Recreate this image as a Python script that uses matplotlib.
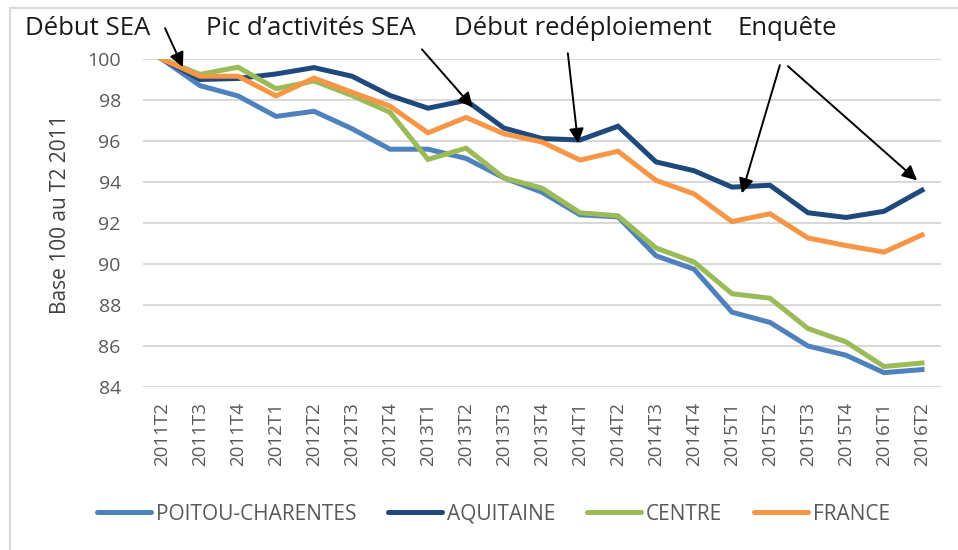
import numpy as np
import matplotlib
matplotlib.use("Agg")
import matplotlib.pyplot as plt
from matplotlib.lines import Line2D

quarters = ["2011T2", "2011T3", "2011T4", "2012T1", "2012T2", "2012T3", "2012T4",
            "2013T1", "2013T2", "2013T3", "2013T4", "2014T1", "2014T2", "2014T3",
            "2014T4", "2015T1", "2015T2", "2015T3", "2015T4", "2016T1", "2016T2"]

poitou = [100, 98.7, 98.2, 97.2, 97.45, 96.6, 95.6, 95.6, 95.15, 94.2, 93.5,
          92.4, 92.3, 90.4, 89.75, 87.65, 87.15, 86.0, 85.55, 84.7, 84.85]
aquitaine = [100, 99.0, 99.05, 99.27, 99.58, 99.16, 98.22, 97.6, 97.98, 96.63, 96.12,
             96.05, 96.72, 94.98, 94.55, 93.75, 93.84, 92.5, 92.27, 92.57, 93.6]
centre = [100, 99.25, 99.6, 98.55, 98.93, 98.22, 97.4, 95.1, 95.65, 94.2, 93.7,
          92.5, 92.35, 90.78, 90.1, 88.55, 88.33, 86.85, 86.2, 85.0, 85.17]
france = [100, 99.16, 99.16, 98.2, 99.07, 98.38, 97.7, 96.4, 97.15, 96.35, 95.95,
          95.07, 95.5, 94.08, 93.42, 92.07, 92.45, 91.27, 90.9, 90.58, 91.42]

series = [("POITOU-CHARENTES", poitou, "#4F81BD"),
          ("AQUITAINE", aquitaine, "#1F497D"),
          ("CENTRE", centre, "#9BBB59"),
          ("FRANCE", france, "#F79646")]

# (label, text x, arrow tails, arrow heads) in data coords
notes = [("Début SEA", -1.95, [(0.08, 101.5)], [(0.55, 99.6)]),
         ("Pic d\u2019activités SEA", 3.92, [(6.84, 100.47)], [(8.18, 97.64)]),
         ("Début redéploiement", 11.07, [(10.68, 100.28)], [(10.95, 95.89)]),
         ("Enquête", 16.46, [(16.26, 99.7), (16.47, 99.65)], [(15.26, 93.45), (19.87, 94.08)])]

plt.rcParams['font.family'] = ['Open Sans', 'DejaVu Sans']

fig = plt.figure(figsize=(9.58, 5.5), dpi=100)
ax = fig.add_axes([143 / 958, 1 - 387 / 550, (941 - 143) / 958, (387 - 59) / 550])

x = np.arange(len(quarters))
for name, vals, col in series:
    ax.plot(x, vals, color=col, lw=3.6, solid_joinstyle="miter", label=name, zorder=3)

ax.set_ylim(84, 100)
ax.set_xlim(-0.5, len(quarters) - 0.5)
ax.set_yticks(np.arange(84, 101, 2))
ax.grid(axis="y", color="#D9D9D9", lw=1.5)
ax.set_axisbelow(True)
for s in ax.spines.values():
    s.set_visible(False)
ax.tick_params(length=0, colors="#595959")
ax.tick_params(axis="y", pad=16, labelsize=14)
ax.set_xticks(x)
ax.set_xticklabels(quarters, rotation=90, fontsize=13.5)
ax.tick_params(axis="x", pad=11)
ax.set_ylabel("Base 100 au T2 2011", fontsize=15, color="#404040")
ax.yaxis.set_label_coords(-0.09, 0.527)

for label, tx, tails, heads in notes:
    ax.text(tx, 101.17, label, ha="center", va="baseline", fontsize=18.5, color="#1a1a1a",
            clip_on=False)
    for t, h in zip(tails, heads):
        ax.annotate("", xy=h, xytext=t, annotation_clip=False,
                    arrowprops=dict(arrowstyle="-|>", color="black", lw=1.4,
                                    mutation_scale=22, shrinkA=0, shrinkB=0))

handles = [Line2D([], [], color=c, lw=3.6, solid_capstyle="round") for _, _, c in series]
fig.legend(handles, [n for n, _, _ in series], loc="center", ncol=4,
           bbox_to_anchor=(0.515, 1 - 514 / 550), frameon=False, fontsize=15,
           handlelength=2.6, handletextpad=0.25, columnspacing=1.5,
           labelcolor="#595959")

# chart area border (top and left edges visible)
fig.add_artist(Line2D([10 / 958, 10 / 958], [0, 1 - 8 / 550], color="#D9D9D9", lw=1.5))
fig.add_artist(Line2D([10 / 958, 1], [1 - 8 / 550, 1 - 8 / 550], color="#D9D9D9", lw=1.5))

fig.savefig("out.png", dpi=100)
